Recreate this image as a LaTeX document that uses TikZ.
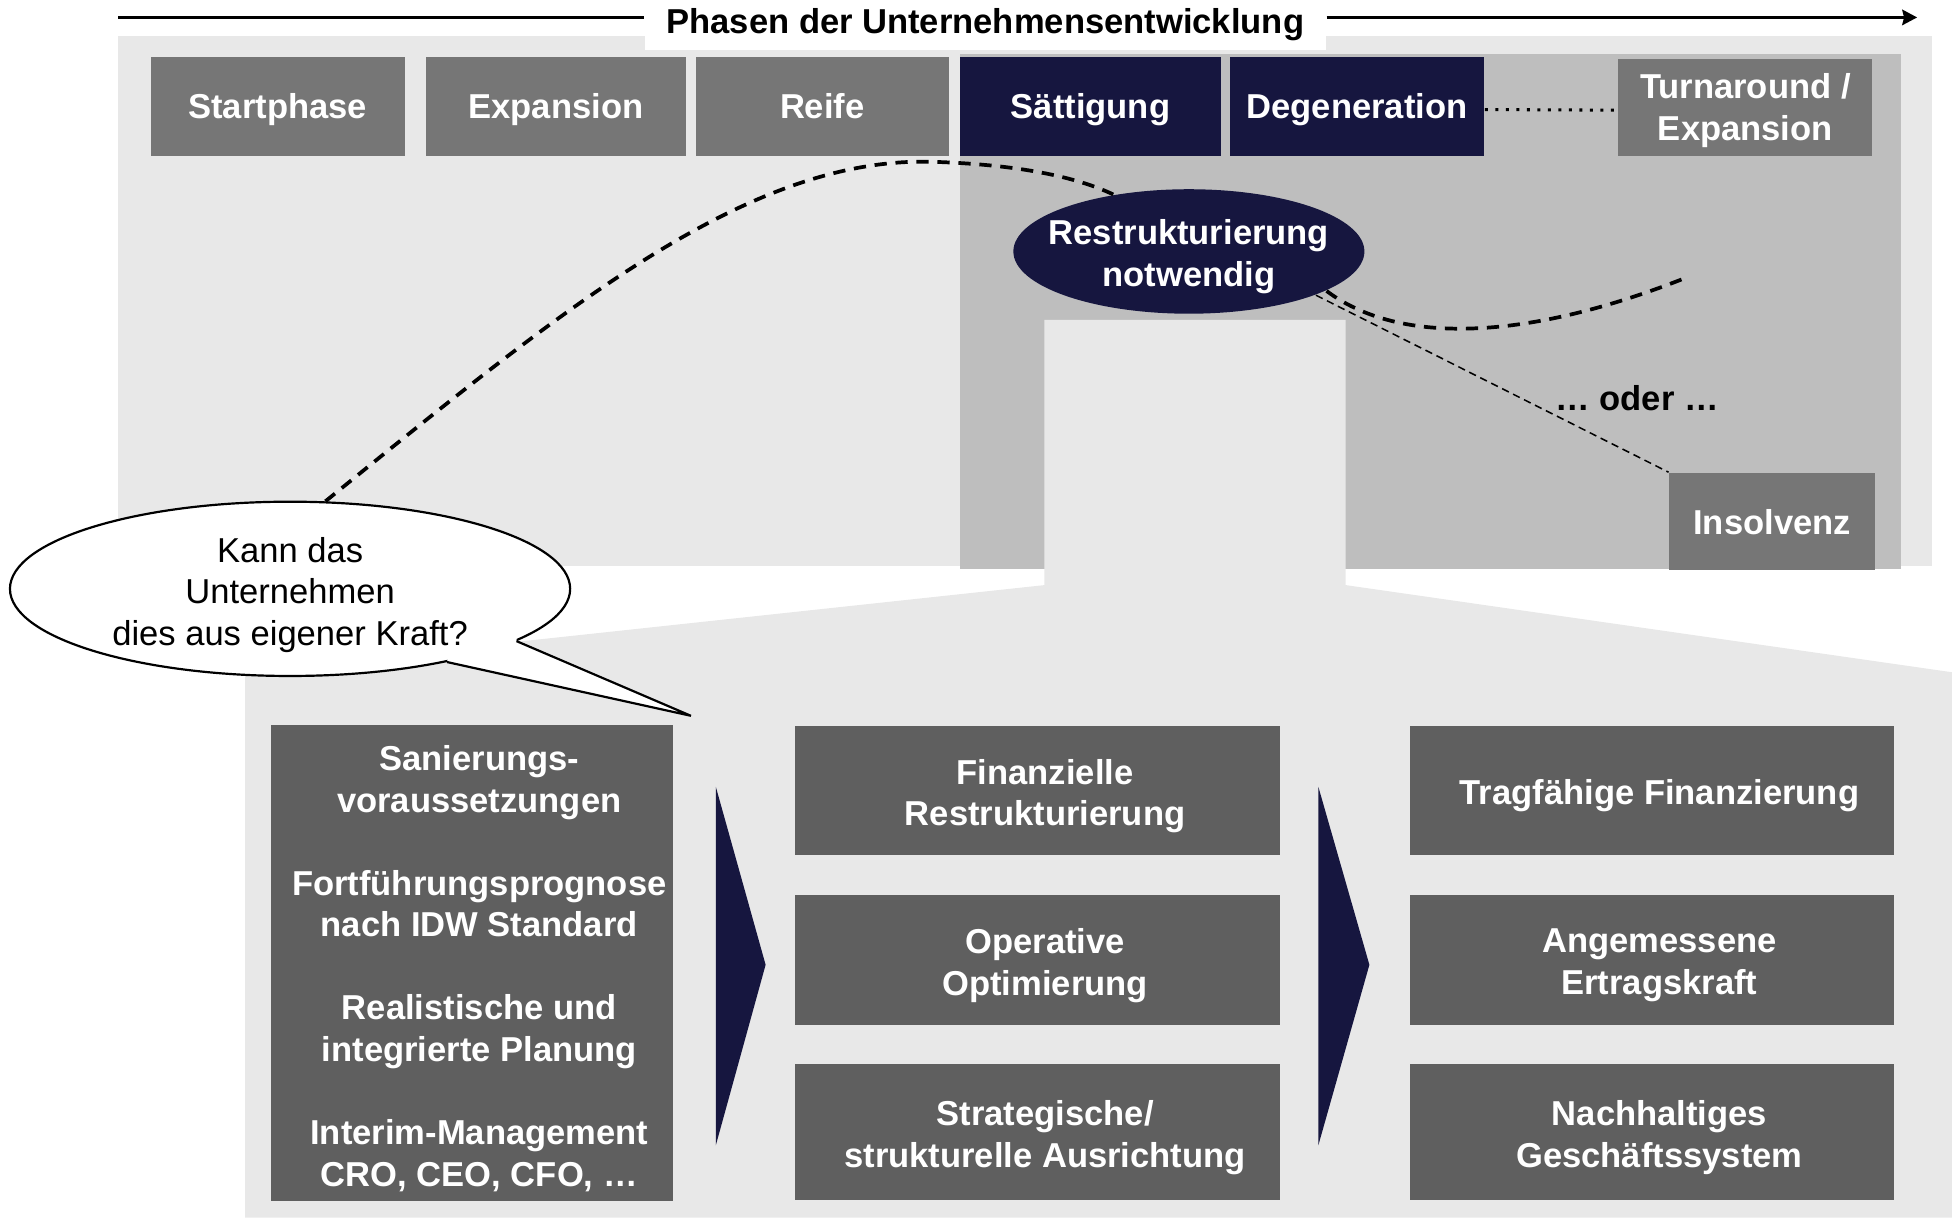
\documentclass[tikz,border=0pt]{standalone}
\usepackage{fontspec}
\setmainfont{Liberation Sans}
\usetikzlibrary{shapes.geometric,arrows.meta}
\definecolor{navy}{HTML}{16163F}
\definecolor{phasegrey}{HTML}{767676}
\definecolor{boxgrey}{HTML}{5F5F5F}
\definecolor{lightbg}{HTML}{E8E8E8}
\definecolor{midbg}{HTML}{BEBEBE}
\begin{document}
\begin{tikzpicture}[x=0.1mm,y=-0.1mm,
every node/.style={font=\fontsize{7.9}{9.5}\selectfont\bfseries,align=center,inner sep=0pt},
phase/.style={fill=phasegrey,text=white,minimum height=7.9mm,text depth=0pt},
box/.style={fill=boxgrey,minimum width=38.9mm,minimum height=10.4mm},
boxtext/.style={text=white,xshift=0.6mm,yshift=-0.45mm},
curve/.style={line width=0.85pt,dash pattern=on 2.8pt off 2pt}]
\useasboundingbox (0,0) rectangle (1568,978);
%
\fill[lightbg] (95,29) rectangle (1552,455);
\fill[midbg] (771,43) rectangle (1527,457);
\fill[lightbg] (839,257)--(1081,257)--(1081,470)--(1568,540)--(1568,978)--(197,978)--(197,539)--(839,470)--cycle;
%
\node[fill=white,minimum width=54.7mm,minimum height=4mm] (title) at (791.5,20) {Phasen der Unternehmensentwicklung};
\coordinate (axL) at (95,14);
\coordinate (axR) at (1540,14);
\draw[line width=0.6pt] (axL)--(axL-|title.west);
\draw[line width=0.6pt,-{Stealth[length=1.2mm,width=1.25mm,inset=0.15mm]}] (axL-|title.east)--(axR);
%
\node[phase,minimum width=20.4mm] (start) at (223,85.5) {Startphase};
\node[phase,minimum width=20.9mm] (exp) at (446.5,85.5) {Expansion};
\node[phase,minimum width=20.3mm] (reife) at (660.5,85.5) {Reife};
\node[phase,fill=navy,minimum width=21mm] (saett) at (876,85.5) {Sättigung};
\node[phase,fill=navy,minimum width=20.4mm] (degen) at (1090,85.5) {Degeneration};
\node[phase,minimum width=20.4mm,minimum height=7.8mm] (turn) at (1402,86) {Turnaround /\\Expansion};
\draw[line width=0.7pt,dash pattern=on 0.7pt off 1.7pt] ([yshift=-0.25mm]degen.east)--([yshift=-0.25mm]turn.west);
%
\node[ellipse,fill=navy,minimum width=28.2mm,minimum height=10mm] (restr) at (955,202) {};
\node[text=white] (restr-t) at (955,206) {Restrukturierung\\notwendig};
\node[phase,minimum width=16.5mm,minimum height=7.8mm] (insolv) at (1423.5,419) {Insolvenz};
\node (oder) at (1315,320) {… oder …};
%
\node[ellipse,draw,fill=white,line width=0.5pt,minimum width=45mm,minimum height=14mm] (bubble) at (233,473) {};
\coordinate (tip) at (555,575);
\fill[white] (bubble.-13)--(tip)--(bubble.-25)--(360,527)--(415,512)--cycle;
\draw[line width=0.5pt] (bubble.-13)--(tip)--(bubble.-25);
\node[font=\fontsize{7.9}{9.4}\selectfont] (frage) at (233,478) {Kann das\\Unternehmen\\dies aus eigener Kraft?};
%
\draw[curve] (bubble.68) .. controls (450,250) and (600,125) .. (750,130) .. controls (810,132) and (860,140) .. (restr.143);
\coordinate (trend) at (1352,224);
\draw[curve] (restr.-16) .. controls (1130,282) and (1240,268) .. (trend);
\draw[line width=0.35pt,dash pattern=on 1.7pt off 1.1pt] (restr.-19)--(insolv.north west);
%
\node[box,minimum width=32.3mm,minimum height=38.3mm] (voraus) at (379.5,773.5) {};
\node[boxtext,xshift=-0.05mm] (voraus-t) at (voraus) {Sanierungs-\\voraussetzungen\\[9.5pt]Fortführungsprognose\\nach IDW Standard\\[9.5pt]Realistische und\\integrierte Planung\\[9.5pt]Interim-Management\\CRO, CEO, CFO, …};
\fill[navy] (575,632)--(615,775)--(575,920)--cycle;
\node[box] (fin) at (833.5,635) {};
\node[boxtext] (fin-t) at (fin) {Finanzielle\\Restrukturierung};
\node[box] (opt) at (833.5,771) {};
\node[boxtext] (opt-t) at (opt) {Operative\\Optimierung};
\node[box,minimum height=10.9mm] (strat) at (833.5,909.5) {};
\node[boxtext] (strat-t) at (strat) {Strategische/\\strukturelle Ausrichtung};
\fill[navy] (1059,632)--(1100,775)--(1059,920)--cycle;
\node[box] (finz) at (1327,635) {};
\node[boxtext] (finz-t) at (finz) {Tragfähige Finanzierung};
\node[box] (ertrag) at (1327,771) {};
\node[boxtext] (ertrag-t) at (ertrag) {Angemessene\\Ertragskraft};
\node[box,minimum height=10.9mm] (gesch) at (1327,909.5) {};
\node[boxtext] (gesch-t) at (gesch) {Nachhaltiges\\Geschäftssystem};
\end{tikzpicture}
\end{document}
